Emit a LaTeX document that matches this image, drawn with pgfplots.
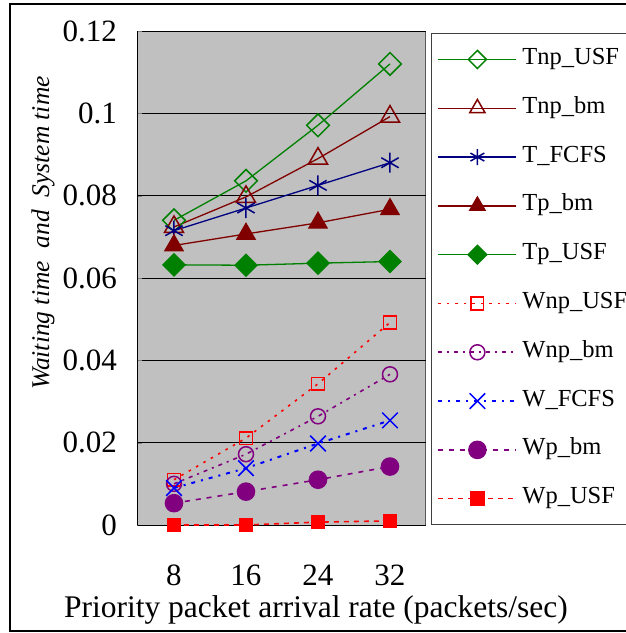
\documentclass[border=0pt]{standalone}
\usepackage{pgfplots}
\pgfplotsset{compat=1.18}
\usepackage{fontspec}
\setmainfont{Liberation Serif}
\definecolor{cgreen}{HTML}{008000}
\definecolor{cdred}{HTML}{800000}
\definecolor{cnavy}{HTML}{000080}
\definecolor{cred}{HTML}{FF0000}
\definecolor{cpurple}{HTML}{800080}
\definecolor{cblue}{HTML}{0000FF}
\definecolor{bggray}{HTML}{C0C0C0}
\begin{document}
\begin{tikzpicture}[x=1pt,y=1pt]
\useasboundingbox (0,0) rectangle (626,633);
\draw[line width=1.3pt] (10,2) rectangle (640,629);
\begin{axis}[
  at={(138pt,108pt)}, anchor=south west,
  scale only axis, width=288pt, height=494pt,
  xmin=4, xmax=36, ymin=0, ymax=0.12,
  clip=false,
  axis x line*=bottom, axis y line*=left,
  axis line style={black, line width=1pt},
  axis background/.style={fill=bggray, draw=gray!70!black, line width=1pt},
  xtick={8,16,24,32}, xticklabels={8,16,24,32},
  ytick={0,0.02,0.04,0.06,0.08,0.1,0.12},
  yticklabels={0,0.02,0.04,0.06,0.08,0.1,0.12},
  ymajorgrids, grid style={black, line width=0.8pt},
  tick align=inside,
  x tick style={draw=none},
  extra x ticks={12,20,28}, extra x tick labels={},
  extra x tick style={major tick length=6pt, tick style={draw=black, line width=0.8pt}},
  tick label style={font=\fontsize{31}{31}\selectfont, inner sep=0pt},
  xticklabel style={anchor=north, yshift=-40pt},
  yticklabel style={anchor=east, xshift=-21pt},
  xlabel={Priority packet arrival rate (packets/sec)},
  xlabel style={font=\fontsize{31.5}{31.5}\selectfont, at={(rel axis cs:0.618,-0.172)}, anchor=center, inner sep=0pt},
  ylabel={Waiting time\ \ and\ \ System time},
  ylabel style={font=\fontsize{25.5}{25.5}\selectfont\itshape, at={(rel axis cs:-0.330,0.591)}, anchor=center, inner sep=0pt},
  legend image code/.code={\draw[mark repeat=2,mark phase=2,#1] plot coordinates {(0pt,0pt) (39pt,0pt) (78pt,0pt)};},
  legend style={at={(rel axis cs:1.017,0.996)}, anchor=north west, draw=black!75, line width=1pt, fill=white,
    font=\fontsize{24.5}{24.5}\selectfont, inner xsep=6pt, inner ysep=15pt, row sep=26.8pt,
    nodes={inner sep=0pt, text height=16pt, text depth=6pt},
    /tikz/every odd column/.style={column sep=5pt}},
  legend cell align=left,
]
\addplot[cgreen, line width=1.3pt, mark=square, mark size=8pt, mark options={rotate=45, solid, line width=1.5pt},
  legend image post style={every mark/.append style={scale=0.8}}]
  coordinates {(8,0.0740) (16,0.0836) (24,0.0971) (32,0.1120)};
\addlegendentry{Tnp\_USF}
\addplot[cdred, line width=1.3pt, mark=triangle, mark size=11pt, mark options={solid, line width=1.5pt},
  legend image post style={every mark/.append style={scale=0.8}}]
  coordinates {(8,0.0724) (16,0.0797) (24,0.0890) (32,0.0992)};
\addlegendentry{Tnp\_bm}
\addplot[cnavy, line width=1.3pt, mark=asterisk, mark size=10pt, mark options={solid, line width=1.5pt},
  legend image post style={every mark/.append style={scale=0.8}}]
  coordinates {(8,0.0715) (16,0.0770) (24,0.0825) (32,0.0880)};
\addlegendentry{T\_FCFS}
\addplot[cdred, line width=1.3pt, mark=triangle*, mark size=10.5pt, mark options={solid},
  legend image post style={every mark/.append style={scale=0.85}}]
  coordinates {(8,0.0679) (16,0.0707) (24,0.0734) (32,0.0767)};
\addlegendentry{Tp\_bm}
\addplot[cgreen, line width=1.3pt, mark=square*, mark size=7.8pt, mark options={rotate=45, solid},
  legend image post style={every mark/.append style={scale=0.85}}]
  coordinates {(8,0.0632) (16,0.0631) (24,0.0636) (32,0.0640)};
\addlegendentry{Tp\_USF}
\addplot[cred, line width=1.6pt, dash pattern=on 2.5pt off 6pt, mark=square, mark size=6.3pt, mark options={solid, line width=1.5pt}]
  coordinates {(8,0.0110) (16,0.0211) (24,0.0343) (32,0.0492)};
\addlegendentry{Wnp\_USF}
\addplot[cpurple, line width=1.6pt, dash pattern=on 4pt off 5pt on 2pt off 5pt, mark=o, mark size=7.5pt, mark options={solid, line width=1.5pt}]
  coordinates {(8,0.0100) (16,0.0172) (24,0.0264) (32,0.0366)};
\addlegendentry{Wnp\_bm}
\addplot[cblue, line width=2pt, dash pattern=on 4pt off 6pt on 2pt off 6pt, mark=x, mark size=11pt, mark options={solid, line width=1.5pt}]
  coordinates {(8,0.0090) (16,0.0138) (24,0.0198) (32,0.0254)};
\addlegendentry{W\_FCFS}
\addplot[cpurple, line width=1.6pt, dash pattern=on 5pt off 6pt, mark=*, mark size=8.5pt, mark options={solid}]
  coordinates {(8,0.0053) (16,0.0081) (24,0.0110) (32,0.0142)};
\addlegendentry{Wp\_bm}
\addplot[cred, line width=1.6pt, dash pattern=on 5pt off 5pt, mark=square*, mark size=6.5pt, mark options={solid}]
  coordinates {(8,0.0) (16,0.0) (24,0.0007) (32,0.0010)};
\addlegendentry{Wp\_USF}
\end{axis}
\end{tikzpicture}
\end{document}
